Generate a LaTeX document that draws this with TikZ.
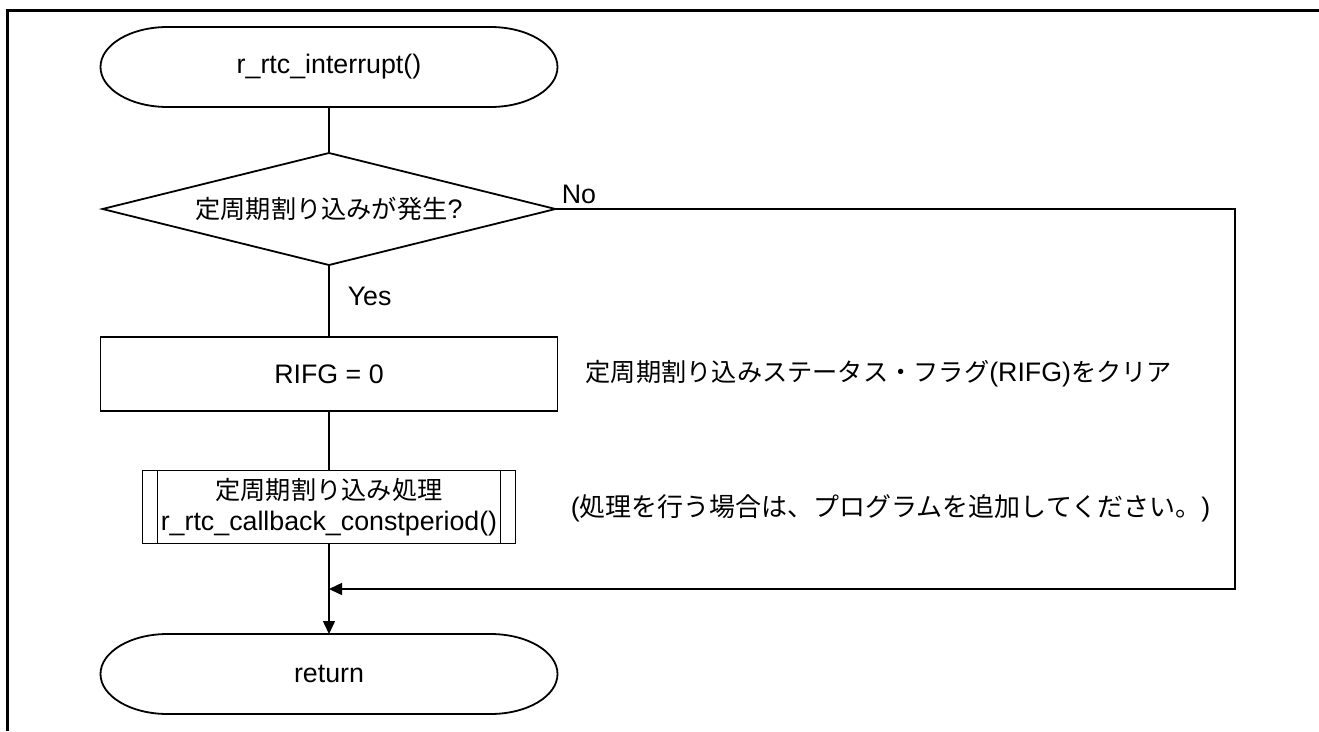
\documentclass[tikz,border=0pt]{standalone}
\usepackage{fontspec}
\setmainfont{Liberation Sans}[Scale=1.03]
\newfontfamily\jpfont{Noto Sans CJK JP}[Scale=0.97]
\newfontfamily\jpwide{Noto Sans CJK JP}
\newcommand{\J}[1]{{\jpfont #1}}
\newcommand{\JW}[1]{{\jpwide #1}}
\usetikzlibrary{arrows.meta}
\begin{document}
\begin{tikzpicture}[x=1pt,y=-1pt,
  font=\fontsize{26}{31}\selectfont,
  line width=1.5pt,
  termbox/.style={rectangle, minimum width=457pt, minimum height=80pt, inner sep=0pt, outer sep=0pt},
  decbox/.style={rectangle, minimum width=453pt, minimum height=112pt, inner sep=0pt, outer sep=0pt},
  procbox/.style={draw, rectangle, minimum width=457pt, minimum height=74pt, inner sep=0pt, outer sep=0pt, line width=1.8pt},
  subbox/.style={draw, rectangle, minimum width=373pt, minimum height=73pt, inner sep=0pt, outer sep=0pt, line width=1.8pt, align=center},
  outline/.style={line width=1.8pt},
  arr/.style={-{Triangle[length=13pt,width=12pt]}},
  note/.style={anchor=west, inner sep=0pt}
]
\useasboundingbox (0,0) rectangle (1319,731);
% frame
\draw[line width=3pt] (7,731) -- (7,10) -- (1319,10);

% start terminal
\node[termbox] (start) at (329,67) {r\_rtc\_interrupt()};
\draw[outline] ([xshift=67pt]start.north west) -- ([xshift=-67pt]start.north east)
  arc[start angle=90, end angle=-90, x radius=67pt, y radius=40pt]
  -- ([xshift=67pt]start.south west)
  arc[start angle=270, end angle=90, x radius=67pt, y radius=40pt] -- cycle;

% decision
\node[decbox] (dec) at (329,209) {\J{定周期割り込みが発生}?};
\draw[outline] (dec.west) -- (dec.north) -- (dec.east) -- (dec.south) -- cycle;
\node[anchor=south west, inner sep=0pt] (nolab) at (561,205) {No};
\node[note] (yeslab) at (347,296) {Yes};

% process RIFG
\node[procbox] (clr) at (329,374) {RIFG = 0};
\node[note] (n1) at (585,374) {\J{定周期割り込みステータス・フラグ}(RIFG)\J{をクリア}};

% subroutine
\node[subbox] (sub) at (329,507) {\J{定周期割り込み処理}\\r\_rtc\_callback\_constperiod()};
\draw[outline] ([xshift=15pt]sub.north west) -- ([xshift=15pt]sub.south west);
\draw[outline] ([xshift=-15pt]sub.north east) -- ([xshift=-15pt]sub.south east);
\node[note] (n2) at (570,508) {(\JW{処理を行う場合は、プログラムを追加してください。})};

% return terminal
\node[termbox] (ret) at (329,674) {return};
\draw[outline] ([xshift=67pt]ret.north west) -- ([xshift=-67pt]ret.north east)
  arc[start angle=90, end angle=-90, x radius=67pt, y radius=40pt]
  -- ([xshift=67pt]ret.south west)
  arc[start angle=270, end angle=90, x radius=67pt, y radius=40pt] -- cycle;

% connectors
\coordinate (c1) at (1235,209);
\coordinate (c2) at (1235,589);
\coordinate (m) at (329,589);
\draw (start.south) -- (dec.north);
\draw (dec.south) -- (clr.north);
\draw (clr.south) -- (sub.north);
\draw[arr] (sub.south) -- (ret.north);
\draw[arr] (dec.east) -- (c1) -- (c2) -- (m);
\end{tikzpicture}
\end{document}
